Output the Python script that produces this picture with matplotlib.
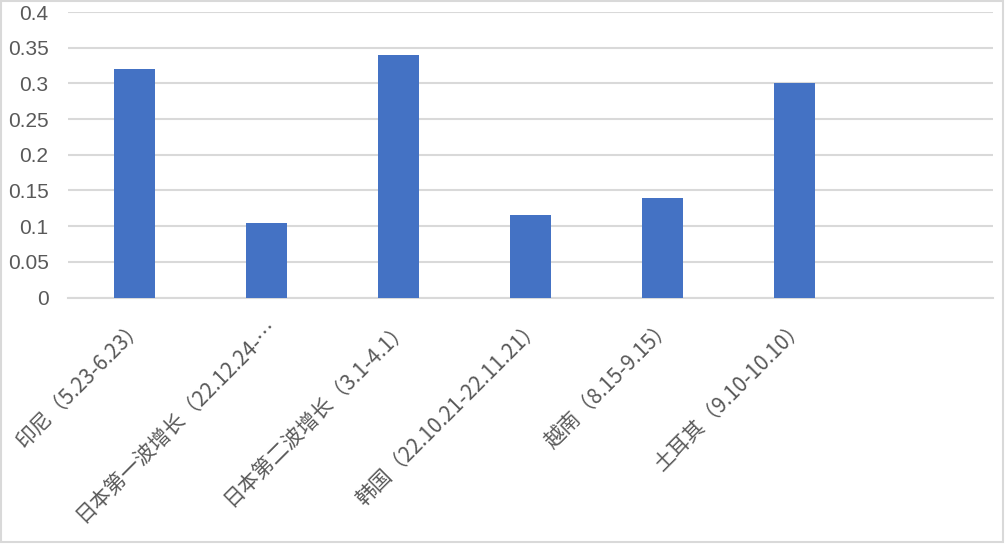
import matplotlib
matplotlib.use("Agg")
import matplotlib.pyplot as plt
from matplotlib.patches import Rectangle

plt.rcParams['font.family'] = ['Noto Sans CJK SC', 'DejaVu Sans']

categories = ['印尼（5.23-6.23）', '日本第一波增长（22.12.24-…', '日本第二波增长（3.1-4.1）',
              '韩国（22.10.21-22.11.21）', '越南（8.15-9.15）', '土耳其（9.10-10.10）', '']
values = [0.32, 0.105, 0.34, 0.115, 0.14, 0.30, 0.0]
yticks = [0, 0.05, 0.1, 0.15, 0.2, 0.25, 0.3, 0.35, 0.4]
ytick_labels = ['0', '0.05', '0.1', '0.15', '0.2', '0.25', '0.3', '0.35', '0.4']

fig = plt.figure(figsize=(10.06, 5.44), dpi=100)
ax = fig.add_axes([68/1006, 1-297.5/544, (993-68)/1006, (297.5-12)/544])

x = list(range(len(categories)))
ax.bar(x[:6], values[:6], width=0.31, color='#4472C4', zorder=3)
ax.set_xlim(-0.5, len(categories)-0.5)
ax.set_ylim(0, 0.4)
ax.set_yticks(yticks)
ax.set_yticklabels(ytick_labels, fontsize=15, color='#595959', family=['Liberation Sans', 'DejaVu Sans'])
ax.set_xticks(x)
ax.set_xticklabels(categories, rotation=45, ha='right', rotation_mode='anchor',
                   fontsize=15, color='#595959')
ax.tick_params(axis='both', length=0)
ax.tick_params(axis='y', pad=14)
ax.tick_params(axis='x', pad=13)
ax.grid(axis='y', color='#d9d9d9', linewidth=1.5, zorder=0)
for s in ['top', 'right', 'left']:
    ax.spines[s].set_visible(False)
ax.spines['bottom'].set_color('#d9d9d9')
ax.spines['bottom'].set_linewidth(1.5)

fig.patches.append(Rectangle((0.001, 0.004), 0.996, 0.994, transform=fig.transFigure,
                             fill=False, edgecolor='#d9d9d9', linewidth=1.5))

fig.savefig('out.png', dpi=100)
